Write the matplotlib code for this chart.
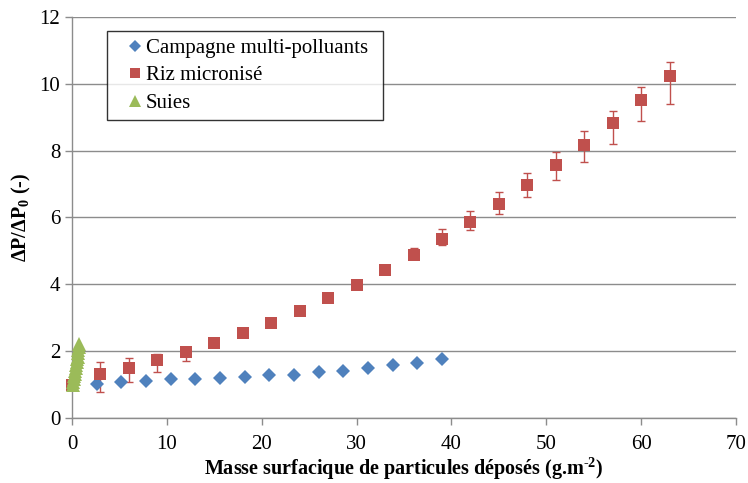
import numpy as np
import matplotlib
matplotlib.use("Agg")
import matplotlib.pyplot as plt

plt.rcParams['font.family'] = ['Liberation Serif', 'DejaVu Serif']
plt.rcParams['mathtext.fontset'] = 'custom'
plt.rcParams['mathtext.rm'] = 'Liberation Serif'
plt.rcParams['mathtext.bf'] = 'Liberation Serif:bold'

# campagne multi-polluants
x_camp = [2.6, 5.2, 7.8, 10.4, 13.0, 15.6, 18.2, 20.8, 23.4, 26.0, 28.6, 31.2, 33.8, 36.4, 39.0]
y_camp = [1.01, 1.07, 1.10, 1.16, 1.16, 1.19, 1.23, 1.28, 1.28, 1.37, 1.42, 1.49, 1.59, 1.66, 1.77]

# riz micronise, with lower / upper error
x_riz = [0, 3, 6, 9, 12, 15, 18, 21, 24, 27, 30, 33, 36, 39, 42, 45, 48, 51, 54, 57, 60, 63]
y_riz = [1.00, 1.32, 1.50, 1.74, 1.97, 2.24, 2.53, 2.84, 3.20, 3.59, 3.98, 4.43, 4.88,
         5.36, 5.86, 6.40, 6.97, 7.57, 8.17, 8.83, 9.52, 10.23]
err_lo = [0.0, 0.54, 0.42, 0.36, 0.27, 0.08, 0.05, 0.05, 0.05, 0.05, 0.06, 0.07, 0.08,
          0.18, 0.24, 0.30, 0.37, 0.45, 0.52, 0.63, 0.62, 0.83]
err_hi = [0.0, 0.36, 0.30, 0.17, 0.05, 0.05, 0.05, 0.05, 0.05, 0.05, 0.05, 0.07, 0.22,
          0.29, 0.34, 0.36, 0.36, 0.39, 0.43, 0.37, 0.38, 0.42]

# suies
x_suies = [0.08, 0.13, 0.18, 0.23, 0.28, 0.33, 0.38, 0.43, 0.48, 0.53, 0.58, 0.63, 0.68, 0.72, 0.76]
y_suies = [1.00, 1.08, 1.16, 1.25, 1.33, 1.42, 1.50, 1.59, 1.67, 1.76, 1.84, 1.93, 2.02, 2.11, 2.20]

c_blue = '#4F81BD'
c_red = '#C0504D'
c_green = '#9BBB59'
c_grid = '#8C8C8C'

fig = plt.figure(figsize=(7.48, 4.83), dpi=100)
ax = fig.add_axes([0.0963, 0.1346, 0.8877, 0.8302])

ax.set_axisbelow(True)
ax.yaxis.grid(True, color=c_grid, linewidth=1.0)

h_camp, = ax.plot(x_camp, y_camp, 'D', color=c_blue, markersize=7, markeredgewidth=0,
                  label='Campagne multi-polluants', zorder=3)
ax.errorbar(x_riz, y_riz, yerr=[err_lo, err_hi], fmt='none', ecolor=c_red,
            elinewidth=1.0, capsize=3, capthick=1.0, zorder=2.5)
h_riz, = ax.plot(x_riz, y_riz, 's', color=c_red, markersize=8, markeredgewidth=0,
                 label='Riz micronisé', zorder=3, clip_on=False)
h_suies, = ax.plot(x_suies, y_suies, '^', color=c_green, markersize=10, markeredgewidth=0,
                   label='Suies', zorder=4, clip_on=False)

ax.set_xlim(0, 70)
ax.set_ylim(0, 12)
ax.set_xticks(np.arange(0, 71, 10))
ax.set_yticks(np.arange(0, 13, 2))
ax.tick_params(axis='both', labelsize=15, direction='out', length=5, color=c_grid, width=1)
ax.tick_params(axis='x', pad=7)

for side in ['top', 'right']:
    ax.spines[side].set_visible(False)
for side in ['left', 'bottom']:
    ax.spines[side].set_color(c_grid)
    ax.spines[side].set_linewidth(1.0)

ax.set_xlabel('Masse surfacique de particules déposés (g.m$^{\\mathbf{\u20102}}$)',
              fontsize=14.5, fontweight='bold', labelpad=1)
ax.set_ylabel(r'ΔP/ΔP$_{\mathbf{0}}$ (-)', fontsize=14.5, fontweight='bold', labelpad=5)

# legend box stretched to a fixed width
leg = ax.legend([h_camp, h_riz, h_suies],
                ['Campagne multi-polluants', 'Riz micronisé', 'Suies'],
                loc='upper left', bbox_to_anchor=(0.0527, 0.7506, 0.4157, 0.2145),
                mode='expand', markerscale=0.85,
                fontsize=15, frameon=True, fancybox=False, handlelength=2.0,
                handletextpad=-0.5, borderpad=0.35, labelspacing=0.38, borderaxespad=0)
leg.get_frame().set_edgecolor('black')
leg.get_frame().set_linewidth(1.0)

fig.savefig('out.png', dpi=100)
